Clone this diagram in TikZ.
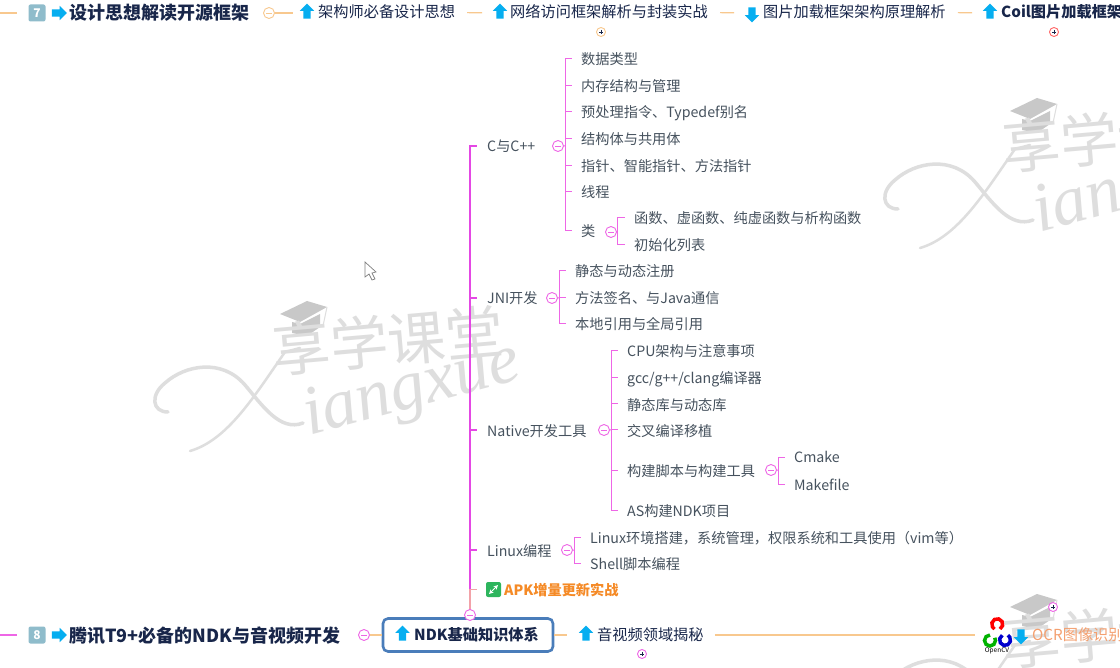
\documentclass[tikz,border=0pt]{standalone}
\usepackage{fontspec}
\setmainfont{Noto Sans CJK SC}
\newfontfamily\markfont{Liberation Serif}
\usetikzlibrary{shapes.arrows}

\definecolor{titleink}{HTML}{18264A}
\definecolor{leafink}{HTML}{46525E}
\definecolor{pinkline}{HTML}{EE66E6}
\definecolor{trunkpink}{HTML}{E448E4}
\definecolor{linkorange}{HTML}{F8C88E}
\definecolor{iconblue}{HTML}{06AEF0}
\definecolor{badgeblue}{HTML}{8FBCCB}
\definecolor{boxblue}{HTML}{4A7DBA}
\definecolor{apkorange}{HTML}{F58A26}
\definecolor{apkgreen}{HTML}{2DB55D}
\definecolor{ocrorange}{HTML}{F4A070}
\definecolor{markgray}{HTML}{DEDEDE}

\tikzset{
    leaf/.style={anchor=west, inner sep=0pt, text height=15pt, text depth=3pt, text=leafink,
        font=\fontsize{14.2}{16}\selectfont},
    topic/.style={anchor=west, inner sep=0pt, text height=14pt, text depth=3pt, text=titleink,
        font=\fontsize{15.2}{17}\selectfont},
    chapter/.style={anchor=west, inner sep=0pt, text height=17pt, text depth=3pt, text=titleink,
        font=\fontsize{18}{20}\selectfont\bfseries},
    badge/.style={fill=badgeblue, rounded corners=2pt, minimum size=17pt, inner sep=0pt, text=white,
        font=\fontsize{12}{14}\selectfont\bfseries},
    arrowicon/.style={single arrow, fill=iconblue, inner sep=0pt, text height=7pt, text depth=0pt,
        minimum height=15pt, single arrow head extend=3.5pt},
    foldminus/.style={circle, draw=#1, fill=white, line width=0.9pt, minimum size=11pt, inner sep=0pt,
        path picture={\draw[#1, line width=0.6pt] ([xshift=2.5pt]path picture bounding box.west) -- ([xshift=-2.5pt]path picture bounding box.east);}},
    foldminus/.default=pinkline,
    foldplus/.style={circle, draw=#1, fill=white, line width=0.9pt, minimum size=9pt, inner sep=0pt,
        path picture={\draw[titleink, line width=0.5pt] ([xshift=2.5pt]path picture bounding box.west) -- ([xshift=-2.5pt]path picture bounding box.east)
            ([yshift=-2.5pt]path picture bounding box.north) -- ([yshift=2.5pt]path picture bounding box.south);}},
    foldplus/.default=pinkline,
    twig/.style={draw=pinkline, line width=1pt, shorten >=9pt, to path={|- (\tikztotarget)}},
    bough/.style={draw=trunkpink, line width=1.4pt, shorten >=10pt, to path={|- (\tikztotarget)}},
    link/.style={draw=linkorange, line width=1.2pt},
}

\newcommand{\xiangmark}[3]{%
    \begin{scope}[shift={(#2,#3)}]
        \fill[markgray!90!black] (280,314) -- (307,301) -- (327,307) -- (300,322) -- cycle;
        \fill[markgray!90!black] (292,322) -- (292,333) -- (307,336) -- (320,327) -- (320,314) -- (300,324) -- cycle;
        \draw[markgray, line width=1pt] (327,307) -- (323,326);
        \node[rotate=5, text=markgray, font=\fontsize{58}{60}\selectfont] at (388,340)(#1logo){享学课堂};
        \node[rotate=15, text=markgray, font=\markfont\itshape\fontsize{70}{72}\selectfont] at (412,392)(#1name){iangxue};
        \draw[markgray, line width=3.5pt, line cap=round]
            (168,412) .. controls (152,412) and (150,395) .. (165,383)
            .. controls (185,365) and (222,358) .. (245,385)
            .. controls (262,405) and (280,432) .. (303,423);
        \draw[markgray, line width=2.5pt, line cap=round]
            (190,451) .. controls (228,440) and (255,395) .. (285,352) -- (300,348);
    \end{scope}
}

\begin{document}
\begin{tikzpicture}[x=1pt, y=-1pt]
    \clip (0,0) rectangle (1120,668);
    \fill[white] (0,0) rectangle (1120,668);

    \xiangmark{marka}{0}{0}
    \xiangmark{markb}{730}{-203}
    \xiangmark{markc}{730}{293}

    % top row
    \coordinate (topstart) at (0,13);
    \node[badge] at (37,13)(badge7){7};
    \node[arrowicon] at (57.5,13)(chapup){};
    \node[chapter] at (69,13)(design){设计思想解读开源框架};
    \node[foldminus=linkorange] at (269,13)(designfold){};
    \node[arrowicon, rotate=90] at (307,13)(archup){};
    \node[topic] at (318,12.5)(arch){架构师必备设计思想};
    \node[arrowicon, rotate=90] at (500,13)(netup){};
    \node[topic] at (510,12.5)(net){网络访问框架解析与封装实战};
    \node[foldplus=linkorange] at (601,32)(netfold){};
    \node[arrowicon, rotate=-90] at (752,13)(imgdown){};
    \node[topic] at (763,12.5)(img){图片加载框架架构原理解析};
    \node[arrowicon, rotate=90] at (990,13)(coilup){};
    \node[topic, font=\fontsize{15.2}{17}\selectfont\bfseries] at (1001,12.5)(coil){Coil图片加载框架};
    \node[foldplus=red!60] at (1054,32)(coilfold){};

    \draw[link, shorten >=11pt] (topstart) -- (badge7);
    \draw[link, shorten >=10pt] (designfold.east) -- (archup);
    \draw[link, shorten <=12pt, shorten >=14pt] (arch.east) -- (netup);
    \draw[link, shorten <=12pt, shorten >=14pt] (net.east) -- (imgdown);
    \draw[link, shorten <=12pt, shorten >=14pt] (img.east) -- (coilup);

    % branches
    \node[leaf] at (487,146)(cpp){C与C++};
    \node[leaf] at (487,298)(jni){JNI开发};
    \node[leaf] at (487,430)(native){Native开发工具};
    \node[leaf] at (487,550)(linux){Linux编程};
    \node[inner sep=0pt, minimum size=15pt, fill=apkgreen, rounded corners=2pt,
        path picture={\draw[white, line width=1pt, <->, >=stealth] ([shift={(3pt,3pt)}]path picture bounding box.south west) -- ([shift={(-3pt,-3pt)}]path picture bounding box.north east);}]
        at (493.5,589.5)(apkicon){};
    \node[leaf, text=apkorange, font=\fontsize{14.2}{16}\selectfont\bfseries] at (504,589)(apk){APK增量更新实战};

    \node[leaf] at (581,59)(ctype){数据类型};
    \node[leaf] at (581,86)(cmem){内存结构与管理};
    \node[leaf] at (581,112)(cpre){预处理指令、Typedef别名};
    \node[leaf] at (581,139)(cstruct){结构体与共用体};
    \node[leaf] at (581,166)(cptr){指针、智能指针、方法指针};
    \node[leaf] at (581,192)(cthread){线程};
    \node[leaf] at (581,231)(cclass){类};
    \node[leaf] at (634,218)(cfunc){函数、虚函数、纯虚函数与析构函数};
    \node[leaf] at (634,245)(cinit){初始化列表};

    \node[leaf] at (575,271)(jreg){静态与动态注册};
    \node[leaf] at (575,298)(jsig){方法签名、与Java通信};
    \node[leaf] at (575,324)(jref){本地引用与全局引用};

    \node[leaf] at (627,351)(ncpu){CPU架构与注意事项};
    \node[leaf] at (627,378)(ngcc){gcc/g++/clang编译器};
    \node[leaf] at (627,404)(nlib){静态库与动态库};
    \node[leaf] at (627,430)(ncross){交叉编译移植};
    \node[leaf] at (627,470)(nbuild){构建脚本与构建工具};
    \node[leaf] at (794,457)(cmake){Cmake};
    \node[leaf] at (794,484)(makefile){Makefile};
    \node[leaf] at (627,510)(nas){AS构建NDK项目};

    \node[leaf] at (590,537)(lenv){Linux环境搭建，系统管理，权限系统和工具使用（vim等）};
    \node[leaf] at (590,563)(lshell){Shell脚本编程};

    \coordinate (cbus) at (565,146);
    \coordinate (classbus) at (617,231);
    \coordinate (jbus) at (559,298);
    \coordinate (nbus) at (611,430);
    \coordinate (buildbus) at (778,470);
    \coordinate (lbus) at (574,550);
    \coordinate (trunkbase) at (470,612);

    \node[foldminus] at (558,146)(cfold){};
    \node[foldminus] at (611,232)(classfold){};
    \node[foldminus] at (552,298)(jfold){};
    \node[foldminus] at (604,430)(nfold){};
    \node[foldminus] at (771,470)(buildfold){};
    \node[foldminus] at (567,550)(lfold){};

    \draw[draw=pinkline, line width=1pt] (cfold.east) -- (cbus) (classfold.east) -- (classbus) (jfold.east) -- (jbus)
        (nfold.east) -- (nbus) (buildfold.east) -- (buildbus) (lfold.east) -- (lbus);

    \path[twig]
        (cbus)edge(ctype) (cbus)edge(cmem) (cbus)edge(cpre) (cbus)edge(cstruct)
        (cbus)edge(cptr) (cbus)edge(cthread) (cbus)edge(cclass)
        (classbus)edge(cfunc) (classbus)edge(cinit)
        (jbus)edge(jreg) (jbus)edge(jsig) (jbus)edge(jref)
        (nbus)edge(ncpu) (nbus)edge(ngcc) (nbus)edge(nlib) (nbus)edge(ncross) (nbus)edge(nbuild) (nbus)edge(nas)
        (buildbus)edge(cmake) (buildbus)edge(makefile)
        (lbus)edge(lenv) (lbus)edge(lshell)
        ;
    \path[bough]
        (trunkbase)edge(cpp) (trunkbase)edge(jni) (trunkbase)edge(native) (trunkbase)edge(linux)
        ;
    \draw[draw=linkorange!70!trunkpink, line width=1.4pt, shorten >=9pt] (trunkbase) |- (apkicon);

    % bottom row
    \coordinate (rowstart) at (0,635);
    \node[badge] at (37,635)(badge8){8};
    \node[arrowicon] at (57.5,635)(rowup){};
    \node[chapter] at (69,635)(ndkdev){腾讯T9+必备的NDK与音视频开发};
    \node[foldminus] at (364,635)(ndkfold){};
    \node[draw=boxblue, line width=2.6pt, rounded corners=5pt, fill=white, minimum width=170pt, minimum height=33pt, inner sep=0pt]
        at (468,635)(ndkbox){};
    \node[foldminus] at (470,615)(rootfold){};
    \node[arrowicon, rotate=90] at (402.5,635)(ndkup){};
    \node[topic, font=\fontsize{15.2}{17}\selectfont\bfseries] at (414,635)(ndk){NDK基础知识体系};
    \node[arrowicon, rotate=90] at (586,635)(avup){};
    \node[topic] at (597,635)(av){音视频领域揭秘};
    \node[foldplus] at (642,654)(avfold){};
    \coordinate (cvstart) at (975,635);
    \node[font=\fontsize{6.5}{7}\selectfont, inner sep=0pt, text=black] at (997,651)(cvlabel){OpenCV};
    \draw[red, line width=3.5pt] (1000,629) arc[start angle=-60, end angle=240, radius=5.5pt];
    \draw[green!70!black, line width=3.5pt] (990,635) arc[start angle=90, end angle=390, radius=5.5pt];
    \draw[blue!80!black, line width=3.5pt] (1002.3,635.2) arc[start angle=120, end angle=420, radius=5.5pt];
    \node[arrowicon, rotate=-90] at (1021,635)(ocrdown){};
    \node[topic, text=ocrorange] at (1032,635)(ocr){OCR图像识别};
    \node[foldplus] at (1053,607)(ocrfold){};

    \draw[pinkline, line width=1.2pt, shorten >=11pt] (rowstart) -- (badge8);
    \draw[link] (ndkfold.east) -- (ndkbox);
    \draw[link, shorten >=15pt] (ndkbox) -- (avup);
    \draw[link, shorten <=11pt] (av.east) -- (cvstart);

    % mouse pointer
    \draw[gray, fill=white, line width=0.7pt] (365,262) -- (365,277) -- (369,274) -- (372,280) -- (375,279) -- (372,273) -- (376,272) -- cycle;
\end{tikzpicture}
\end{document}
